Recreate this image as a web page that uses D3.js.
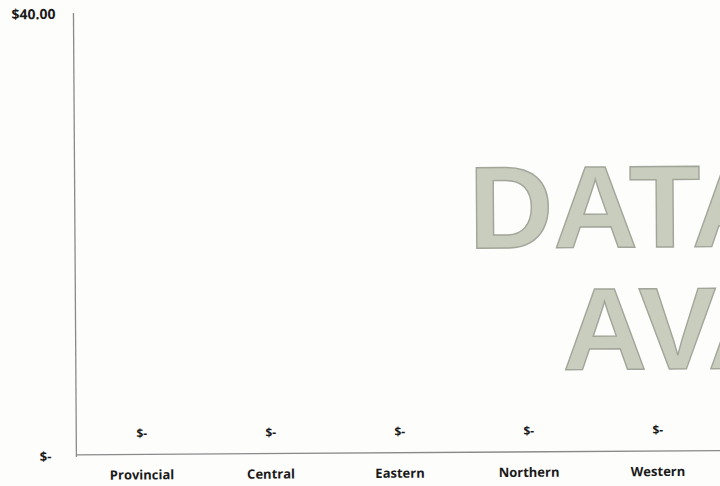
<!DOCTYPE html>
<html>
<head>
<meta charset="utf-8">
<script src="https://cdn.jsdelivr.net/npm/d3@7"></script>
<style>
    body { margin: 0; background: #fdfdfc; overflow: hidden; }
    svg { display: block; }
    .label { font-family: 'Open Sans', 'Liberation Sans', sans-serif; font-weight: bold; fill: #1a1a1a; }
    .watermark { font-family: 'Liberation Sans', Arial, sans-serif; font-weight: bold; fill: #c9cdbd; stroke: #a2a69a; stroke-width: 1.4; }
</style>
</head>
<body>
<svg id="chart" width="720" height="486"></svg>
<script>
// Data
const regions = ['Provincial', 'Central', 'Eastern', 'Northern', 'Western'];
const amounts = [0, 0, 0, 0, 0];
const yTicks = [0, 40];
const watermarkLines = ['DATA NOT', 'AVAILABLE'];

/**
 * Visual configs.
 */
const width = 720, height = 486,
    margin = { top: 15, right: 0, bottom: 33, left: 76 },
    band = 129;

// Accounting style: zero shows as a dash
const money = v => v === 0 ? '$-' : '$' + d3.format(',.2f')(v);

const svg = d3.select('#chart');
// Scanned page is tilted a little
const page = svg.append('g').attr('transform', 'rotate(-0.38,' + width / 2 + ',' + height / 2 + ')');

const xScale = d3.scaleBand()
    .domain(regions)
    .range([margin.left, margin.left + band * regions.length]);
const yScale = d3.scaleLinear()
    .domain([0, 40])
    .range([height - margin.bottom, margin.top]);

// Watermark behind the chart, runs off the right edge like the scan
const wm = page.append('g').attr('class', 'watermark-layer');
wm.append('text').attr('class', 'watermark')
    .attr('x', 469).attr('y', 249)
    .style('font-size', '117px')
    .text(watermarkLines[0]);
wm.append('text').attr('class', 'watermark')
    .attr('x', 562).attr('y', 371)
    .style('font-size', '117px')
    .text(watermarkLines[1]);

// Axes
const x0 = margin.left - 1;
page.append('line')
    .attr('x1', x0).attr('x2', x0)
    .attr('y1', yScale(40) - 4).attr('y2', yScale(0) + 2)
    .attr('stroke', '#8a8a8a').attr('stroke-width', 1.3);
page.append('line')
    .attr('x1', x0).attr('x2', width + 10)
    .attr('y1', yScale(0)).attr('y2', yScale(0))
    .attr('stroke', '#8a8a8a').attr('stroke-width', 1.3);

// Y tick labels
page.selectAll('.y-tick').data(yTicks).enter().append('text')
    .attr('class', 'label y-tick')
    .attr('x', d => d === 0 ? 50 : 57)
    .attr('y', d => yScale(d) + (d === 0 ? 6 : 2))
    .attr('text-anchor', 'end')
    .style('font-size', d => d === 0 ? '13px' : '14px')
    .text(money);

// Bars (all zero)
page.selectAll('.bar').data(amounts).enter().append('rect')
    .attr('class', 'bar')
    .attr('x', (d, i) => xScale(regions[i]) + band * 0.2)
    .attr('width', band * 0.6)
    .attr('y', d => yScale(d))
    .attr('height', d => yScale(0) - yScale(d))
    .attr('fill', '#5b7fb5');

// Value labels
page.selectAll('.value').data(amounts).enter().append('text')
    .attr('class', 'label value')
    .attr('x', (d, i) => xScale(regions[i]) + xScale.bandwidth() / 2)
    .attr('y', d => yScale(d) - 17)
    .attr('text-anchor', 'middle')
    .style('font-size', '12px')
    .text(money);

// Category labels
page.selectAll('.cat').data(regions).enter().append('text')
    .attr('class', 'label cat')
    .attr('x', d => xScale(d) + xScale.bandwidth() / 2)
    .attr('y', yScale(0) + 25)
    .attr('text-anchor', 'middle')
    .style('font-size', '13px')
    .text(d => d);
</script>
</body>
</html>
